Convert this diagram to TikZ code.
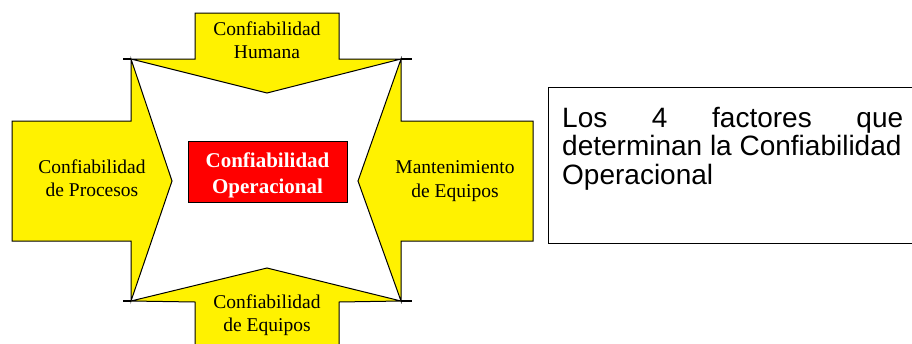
\documentclass[tikz,border=0pt]{standalone}
\usepackage{fontspec}
\setmainfont{Liberation Serif}
\setsansfont{Liberation Sans}
\begin{document}
\begin{tikzpicture}[x=1pt,y=-1pt,
  arrowshape/.style={fill=yellow, draw=black, line width=1pt, line join=miter},
  lbl/.style={anchor=base, inner sep=0pt, font=\fontsize{19.5}{23}\selectfont},
  redlbl/.style={anchor=base, inner sep=0pt, text=white, font=\fontsize{21}{26}\selectfont\bfseries},
  desc/.style={anchor=base west, inner sep=0pt, font=\sffamily\fontsize{28}{29}\selectfont},
  wing/.style={line width=2.2pt, line cap=butt}]
\useasboundingbox (0,0) rectangle (912,343);
\fill[white] (0,0) rectangle (912,343);
\coordinate (tl) at (131,59);
\coordinate (tr) at (401,59);
\coordinate (bl) at (131,301);
\coordinate (br) at (401,301);
\coordinate (tt) at (267,93);
\coordinate (bt) at (267,268);
\coordinate (lt) at (172,181);
\coordinate (rt) at (358,181);
% top arrow
\draw[arrowshape] (195,13) -- (339,13) -- (339,59) -- (tr) -- (tt) -- (tl) -- (195,59) -- cycle;
% left arrow
\draw[arrowshape] (12,121) -- (131,121) -- (tl) -- (lt) -- (bl) -- (131,241) -- (12,241) -- cycle;
% right arrow
\draw[arrowshape] (533,121) -- (401,121) -- (tr) -- (rt) -- (br) -- (401,241) -- (533,241) -- cycle;
% bottom arrow
\draw[arrowshape] (195,352) -- (195,302) -- (bl) -- (bt) -- (br) -- (339,302) -- (339,352) -- cycle;
% wings
\coordinate (wtl) at (123,59);
\coordinate (wtr) at (412,59);
\coordinate (wbl) at (123,301);
\coordinate (wbr) at (412,301);
\draw[wing] (wtl) -- (tl);
\draw[wing] (tr) -- (wtr);
\draw[wing] (wbl) -- (bl);
\draw[wing] (br) -- (wbr);
% centre box
\node[draw=black, fill=red, line width=1pt, minimum width=159pt, minimum height=61pt, inner sep=0pt] (op) at (267.5,171.5) {};
\node[redlbl] (op1) at (267.5,167) {Confiabilidad};
\node[redlbl] (op2) at (267.5,193) {Operacional};
% labels
\node[lbl] (hu1) at (267,35) {Confiabilidad};
\node[lbl] (hu2) at (267,58) {Humana};
\node[lbl] (pr1) at (92,173) {Confiabilidad};
\node[lbl] (pr2) at (92,196) {de Procesos};
\node[lbl] (ma1) at (455,173) {Mantenimiento};
\node[lbl] (ma2) at (455,197) {de Equipos};
\node[lbl] (eq1) at (267,308) {Confiabilidad};
\node[lbl] (eq2) at (267,331) {de Equipos};
% description box
\draw[line width=1pt] (915,87) -- (548,87) -- (548,243) -- (915,243);
\node[desc] (d1) at (562,127) {\makebox[341pt][s]{Los 4 factores que}};
\node[desc] (d2) at (562,155) {determinan la Confiabilidad};
\node[desc] (d3) at (562,184) {Operacional};
\end{tikzpicture}
\end{document}
